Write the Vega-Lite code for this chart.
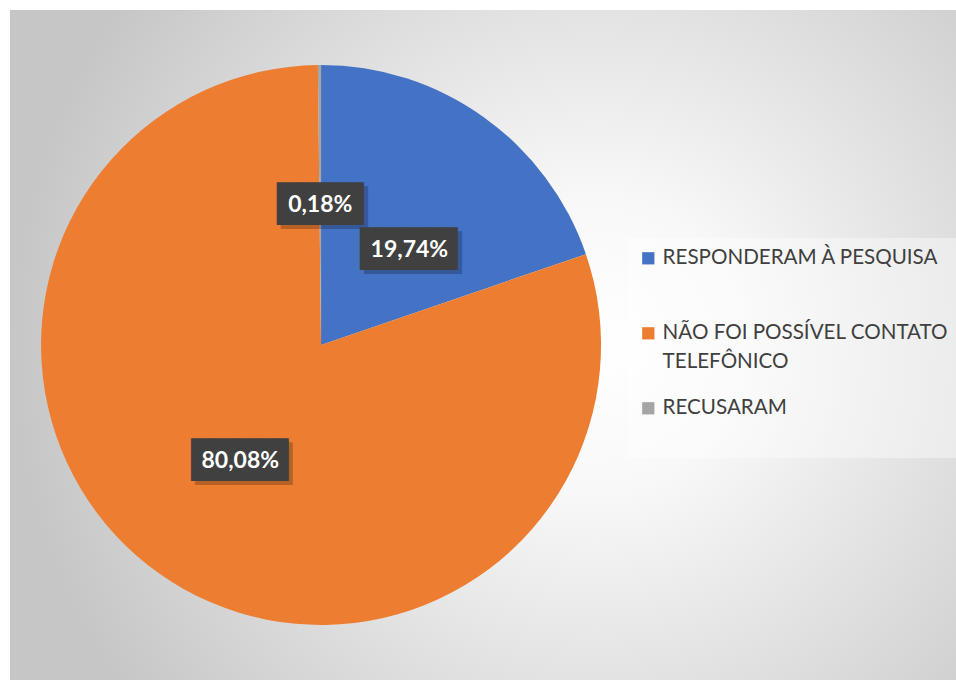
{
  "$schema": "https://vega.github.io/schema/vega-lite/v6.json",
  "width": 946,
  "height": 670,
  "autosize": {"type": "none"},
  "padding": {"left": 10, "top": 10, "right": 0, "bottom": 0},
  "background": "white",
  "config": {"style": {"guide-label": {"lineHeight": 29}}},
  "view": {
    "stroke": null,
    "fill": {
      "gradient": "radial",
      "x1": 0.62, "y1": 0.5, "r1": 0,
      "x2": 0.62, "y2": 0.5, "r2": 0.62,
      "stops": [
        {"offset": 0, "color": "#ffffff"},
        {"offset": 0.25, "color": "#f8f8f8"},
        {"offset": 1, "color": "#c6c6c6"}
      ]
    }
  },
  "data": {
    "values": [
      {"categoria": "RESPONDERAM À PESQUISA", "pct": 19.74, "rotulo": "19,74%", "ordem": 1},
      {"categoria": "NÃO FOI POSSÍVEL CONTATO TELEFÔNICO", "pct": 80.08, "rotulo": "80,08%", "ordem": 2},
      {"categoria": "RECUSARAM", "pct": 0.18, "rotulo": "0,18%", "ordem": 3}
    ]
  },
  "encoding": {
    "theta": {"field": "pct", "type": "quantitative", "stack": true},
    "order": {"field": "ordem", "type": "quantitative"}
  },
  "layer": [
    {
      "mark": {"type": "arc", "outerRadius": 280, "x": {"expr": "width*0.3288"}, "stroke": null},
      "encoding": {
        "color": {
          "field": "categoria",
          "type": "nominal",
          "sort": ["RESPONDERAM À PESQUISA", "NÃO FOI POSSÍVEL CONTATO TELEFÔNICO", "RECUSARAM"],
          "scale": {
            "domain": ["RESPONDERAM À PESQUISA", "NÃO FOI POSSÍVEL CONTATO TELEFÔNICO", "RECUSARAM"],
            "range": ["#4472C4", "#ED7D31", "#A5A5A5"]
          },
          "legend": {
            "orient": "none",
            "legendX": 618,
            "legendY": 228,
            "title": null,
            "fillColor": "rgba(255,255,255,0.4)",
            "padding": 10,
            "symbolType": "square",
            "symbolSize": 150,
            "symbolStrokeWidth": 0,
            "labelFont": "Lato",
            "labelFontSize": 20.6,
            "labelColor": "#404040",
            "labelLimit": 0,
            "labelOffset": 4,
            "labelBaseline": "middle",
            "rowPadding": 25,
            "labelExpr": "datum.label == 'NÃO FOI POSSÍVEL CONTATO TELEFÔNICO' ? ['NÃO FOI POSSÍVEL CONTATO', 'TELEFÔNICO'] : [datum.label, ' ']"
          }
        }
      }
    },
    {
      "mark": {
        "type": "text", "radius": 140, "x": {"expr": "width*0.3288"},
        "font": "DejaVu Sans Mono", "fontSize": 36, "baseline": "middle", "align": "center",
        "color": "#000000", "opacity": 0.22,
        "dx": {"expr": "datum.ordem == 1 ? 16 : datum.ordem == 2 ? 9 : 4"},
        "dy": {"expr": "datum.ordem == 1 ? 23 : datum.ordem == 2 ? 6 : 4"}
      },
      "encoding": {
        "text": {"condition": {"test": "datum.ordem == 3", "value": "████"}, "value": "████▌"}
      }
    },
    {
      "mark": {
        "type": "text", "radius": 140, "x": {"expr": "width*0.3288"},
        "font": "DejaVu Sans Mono", "fontSize": 36, "baseline": "middle", "align": "center",
        "color": "#404040",
        "dx": {"expr": "datum.ordem == 1 ? 12 : datum.ordem == 2 ? 5 : 0"},
        "dy": {"expr": "datum.ordem == 1 ? 19 : datum.ordem == 2 ? 2 : 0"}
      },
      "encoding": {
        "text": {"condition": {"test": "datum.ordem == 3", "value": "████"}, "value": "████▌"}
      }
    },
    {
      "mark": {
        "type": "text", "radius": 140, "x": {"expr": "width*0.3288"},
        "font": "Lato", "fontSize": 23, "fontWeight": "bold", "baseline": "middle", "align": "center",
        "color": "#ffffff",
        "dx": {"expr": "datum.ordem == 1 ? 7 : 0"},
        "dy": {"expr": "datum.ordem == 1 ? 19 : datum.ordem == 2 ? 2 : 0"}
      },
      "encoding": {
        "text": {"field": "rotulo", "type": "nominal"}
      }
    }
  ]
}
